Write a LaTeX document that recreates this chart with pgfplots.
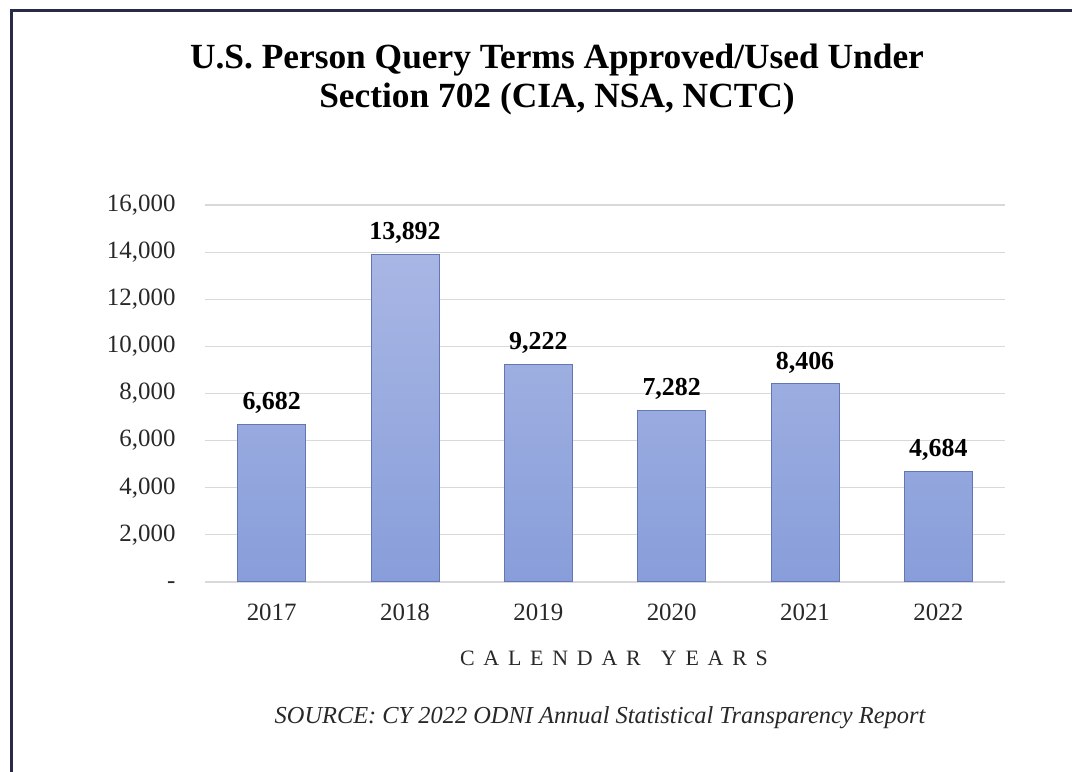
\documentclass[border=0pt]{standalone}
\usepackage{pgfplots}
\pgfplotsset{compat=1.18}
\usepackage{fontspec}
\setmainfont{Liberation Serif}
\definecolor{frame}{RGB}{40,42,72}
\definecolor{bartop}{RGB}{168,182,228}
\definecolor{barbot}{RGB}{136,158,218}
\definecolor{baredge}{RGB}{100,118,180}
\definecolor{gridc}{RGB}{217,217,217}
\definecolor{txt}{RGB}{40,40,40}
\begin{document}
\begin{tikzpicture}[x=1bp,y=1bp]
\useasboundingbox (0,0) rectangle (1072,772);
\fill[white] (0,0) rectangle (1072,772);
\draw[line width=3bp, frame] (11.5,0) -- (11.5,761.5) -- (1072,761.5);
\node[font=\fontsize{35.5}{40}\selectfont\bfseries, text=black] at (557,712) {U.S. Person Query Terms Approved/Used Under};
\node[font=\fontsize{35.5}{40}\selectfont\bfseries, text=black] at (557,673) {Section 702 (CIA, NSA, NCTC)};
\node[font=\fontsize{22}{26}\selectfont\addfontfeature{LetterSpace=40}, text=txt] at (614,114) {CALENDAR\hspace{6bp} YEARS};
\node[font=\fontsize{24.5}{28}\selectfont\itshape, text=txt] at (600,54) {SOURCE: CY 2022 ODNI Annual Statistical Transparency Report};
\begin{axis}[
  at={(205bp,190bp)}, anchor=south west,
  scale only axis, width=800bp, height=377bp,
  xmin=-0.5, xmax=5.5, ymin=0, ymax=16000,
  axis line style={draw=none},
  ybar, bar width=68bp,
  scaled y ticks=false,
  xtick={0,1,2,3,4,5},
  xticklabels={2017,2018,2019,2020,2021,2022},
  ytick={0,2000,4000,6000,8000,10000,12000,14000,16000},
  yticklabels={\smash{\raisebox{-7bp}{-}},{2,000},{4,000},{6,000},{8,000},{10,000},{12,000},{14,000},{16,000}},
  ymajorgrids, grid style={gridc, line width=1.2bp},
  major tick length=0pt,
  tick style={draw=none},
  /pgf/number format/assume math mode=true,
  tick label style={font=\fontsize{25}{28}\selectfont, text=txt},
  yticklabel style={xshift=-26bp},
  xticklabel style={yshift=-18bp},
  nodes near coords={\pgfmathprintnumber[1000 sep={,},assume math mode=true]{\pgfplotspointmeta}},
  nodes near coords style={font=\fontsize{26}{30}\selectfont\bfseries, text=black, yshift=7bp},
  clip=false,
]
\addplot[draw=baredge, line width=1bp, top color=bartop, bottom color=barbot] coordinates {(0,6682) (1,13892) (2,9222) (3,7282) (4,8406) (5,4684)};
\end{axis}
\end{tikzpicture}
\end{document}
